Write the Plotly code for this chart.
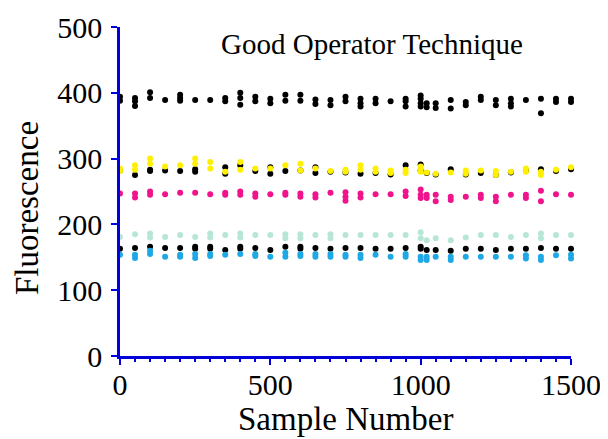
import plotly.graph_objects as go

# Sample numbers (x) for each cluster of readings
sample_x = [0, 50, 100, 150, 200, 250, 300, 350, 400, 450, 500, 550, 600, 650, 700, 750,
            800, 850, 900, 950, 1000, 1020, 1050, 1100, 1150, 1200, 1250, 1300, 1350, 1400, 1450, 1500]

# Fluorescence readings per cluster, one list per series
black_top = [[394, 388], [392, 387, 380], [401, 392], [389], [397, 392, 388], [389], [389], [392, 387],
             [400, 392, 382], [394, 387], [391, 384], [397, 388], [397, 388], [390, 383], [389, 381], [394, 387],
             [391, 384, 379], [391, 384], [387], [391, 387, 379], [396, 391, 384, 379], [384, 378], [384, 377],
             [389, 376], [386, 381], [394, 389], [389, 381], [391, 384, 379], [389], [391, 369], [391, 386], [391, 386]]

yellow = [[285, 281], [290, 283], [300, 292], [288], [290], [300, 292], [295, 285], [280],
          [295, 283], [285], [285], [290], [292, 282], [285], [281], [283, 280],
          [290, 283], [285, 280], [282, 278], [283, 278], [288, 285, 280], [279], [277],
          [279], [282, 277], [282], [281, 275], [280], [285, 280], [280, 275], [283], [287]]

black_mid = [[282], [275], [283, 281], [282], [281], [284, 280], [], [287, 277],
             [290], [281], [287, 277], [281], [282], [287, 278], [280], [279],
             [277], [278], [276], [290], [291, 282], [278], [276],
             [284], [276], [278], [275], [279], [282], [284], [281], [284]]

magenta = [[247], [247, 241], [250, 245], [246], [248], [248], [246], [248, 245],
           [250, 245], [247, 242], [246], [248, 245], [247, 242], [246, 241], [248], [249, 242, 236],
           [247, 241], [246], [246], [250, 243], [253, 245, 240], [245, 240], [245, 235],
           [242, 237], [242], [245, 240], [242, 235], [245], [245, 240], [251, 235], [246], [245]]

light_green = [[181], [185], [186, 180], [181], [184], [181], [186, 180], [184],
               [186, 180], [184], [184], [185, 179], [185, 179], [184], [185, 179], [184],
               [184], [184], [184], [184], [188, 179], [176], [179],
               [176], [180], [184], [184], [181], [184], [186, 179], [184], [184]]

black_low = [[163], [164], [166], [164], [164], [166, 163], [166, 163], [161],
             [166, 163], [164], [161], [166], [166, 163], [164], [163], [164],
             [164], [163], [163], [164], [166, 163], [161], [161],
             [160], [163], [163], [161], [163], [163], [164], [163], [163]]

blue = [[154], [154, 149], [160, 155], [151], [154, 151], [155, 149], [155, 152], [154],
        [155], [155, 152], [151], [157, 151], [155, 152], [155, 151], [155, 151], [154, 151],
        [154, 149], [154], [151], [155, 151], [151, 146], [151, 146], [151],
        [151, 146], [151], [151], [151], [151], [153, 148], [151, 146], [153], [154, 148]]

series = [
    ("Series A", black_top, "#000000"),
    ("Series B", black_mid, "#000000"),
    ("Series C", yellow, "#FFF000"),
    ("Series D", magenta, "#F0148C"),
    ("Series E", light_green, "#B8E6D6"),
    ("Series F", black_low, "#000000"),
    ("Series G", blue, "#1EA8E4"),
]

AXIS_BLUE = "#0000DD"
FONT = "Liberation Serif"

fig = go.Figure()
for name, vals, col in series:
    xs, ys = [], []
    for xv, group in zip(sample_x, vals):
        for v in group:
            xs.append(xv)
            ys.append(v)
    fig.add_trace(go.Scatter(x=xs, y=ys, mode="markers", name=name, cliponaxis=False,
                             marker=dict(color=col, size=6, line=dict(width=0))))

fig.add_annotation(text="Good Operator Technique", xref="paper", yref="paper",
                   x=0.559, y=0.948, xanchor="center", yanchor="middle", showarrow=False,
                   font=dict(family=FONT, size=29, color="black"))

# Axis titles as annotations for exact placement
fig.add_annotation(text="Sample Number", xref="paper", yref="paper",
                   x=0.499, y=-0.19, xanchor="center", yanchor="middle", showarrow=False,
                   font=dict(family=FONT, size=33, color="black"))
fig.add_annotation(text="Fluorescence", xref="paper", yref="paper",
                   x=-0.206, y=0.45, xanchor="center", yanchor="middle", showarrow=False,
                   textangle=-90, font=dict(family=FONT, size=33, color="black"))

# page body has an 8px margin, so the figure is 8px smaller than the window
fig.update_layout(
    width=600, height=431,
    margin=dict(l=112, r=37, t=19, b=83, autoexpand=False),
    paper_bgcolor="white", plot_bgcolor="white",
    showlegend=False,
    font=dict(family=FONT, color="black"),
)
fig.update_xaxes(range=[0, 1500], dtick=500, tick0=0, showgrid=False, zeroline=False,
                 showline=True, linecolor=AXIS_BLUE, linewidth=2.5, automargin=False,
                 ticks="outside", ticklen=6, tickwidth=2, tickcolor=AXIS_BLUE,
                 ticklabelstandoff=-6,
                 minor=dict(dtick=50, ticks="outside", ticklen=3, tickwidth=1.5, tickcolor=AXIS_BLUE),
                 tickfont=dict(family=FONT, size=30, color="black"))
fig.update_yaxes(range=[0, 500], dtick=100, tick0=0, showgrid=False, zeroline=False,
                 showline=True, linecolor=AXIS_BLUE, linewidth=2.5, automargin=False,
                 ticks="outside", ticklen=6, tickwidth=2, tickcolor=AXIS_BLUE,
                 ticklabelstandoff=3,
                 tickfont=dict(family=FONT, size=30, color="black"))

fig.write_html("out.html")
